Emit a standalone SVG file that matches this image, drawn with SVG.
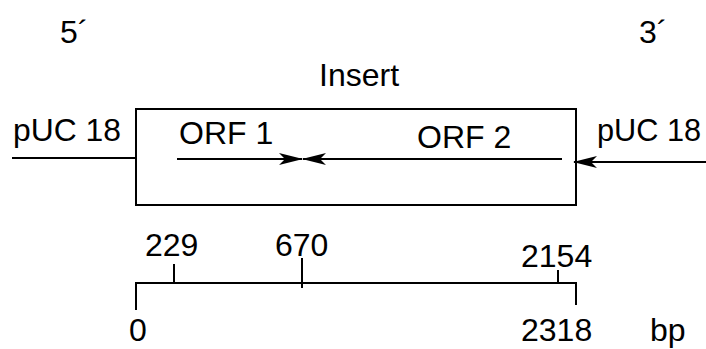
<svg xmlns="http://www.w3.org/2000/svg" width="706" height="349" viewBox="0 0 706 349">
<style>
text{font-family:"Liberation Sans",Arial,sans-serif;font-size:32px;fill:#000}
.l{stroke:#000;stroke-width:2;fill:none}
</style>
<defs>
<marker id="ah" viewBox="0 0 24 12" refX="23" refY="6" markerWidth="24" markerHeight="12" markerUnits="userSpaceOnUse" orient="auto">
<path d="M0,0 L24,6 L0,12 L6,6 Z" fill="#000"/>
</marker>
</defs>
<rect width="706" height="349" fill="#fff"/>
<g id="labels">
<text x="60" y="43">5´</text>
<text x="639" y="43">3´</text>
<text x="319" y="86">Insert</text>
</g>
<g id="insert">
<rect class="l" x="136" y="109" width="440" height="96"/>
</g>
<g id="puc-left"><text x="13" y="141" textLength="108" lengthAdjust="spacingAndGlyphs">pUC 18</text></g>
<g id="puc-right"><text x="597" y="141" textLength="104" lengthAdjust="spacingAndGlyphs">pUC 18</text></g>
<g id="orf1"><text x="179" y="144">ORF 1</text></g>
<g id="orf2"><text x="417" y="148">ORF 2</text></g>
<g id="connectors">
<line class="l" x1="12" y1="158" x2="136" y2="158"/>
<line class="l" x1="177" y1="159" x2="302" y2="159" marker-end="url(#ah)"/>
<line class="l" x1="562" y1="159" x2="303" y2="159" marker-end="url(#ah)"/>
<line class="l" x1="706" y1="162" x2="574" y2="162" marker-end="url(#ah)"/>
</g>
<g id="scale">
<polyline class="l" points="136,310 136,283 576,283 576,305"/>
<line class="l" x1="174" y1="264" x2="174" y2="283"/>
<line class="l" x1="302" y1="258" x2="302" y2="288"/>
<line class="l" x1="558" y1="270" x2="558" y2="283"/>
<text x="145" y="256">229</text>
<text x="275" y="256">670</text>
<text x="521" y="267">2154</text>
<text x="129" y="341">0</text>
<text x="521" y="341">2318<tspan x="650">bp</tspan></text>
</g>
</svg>
